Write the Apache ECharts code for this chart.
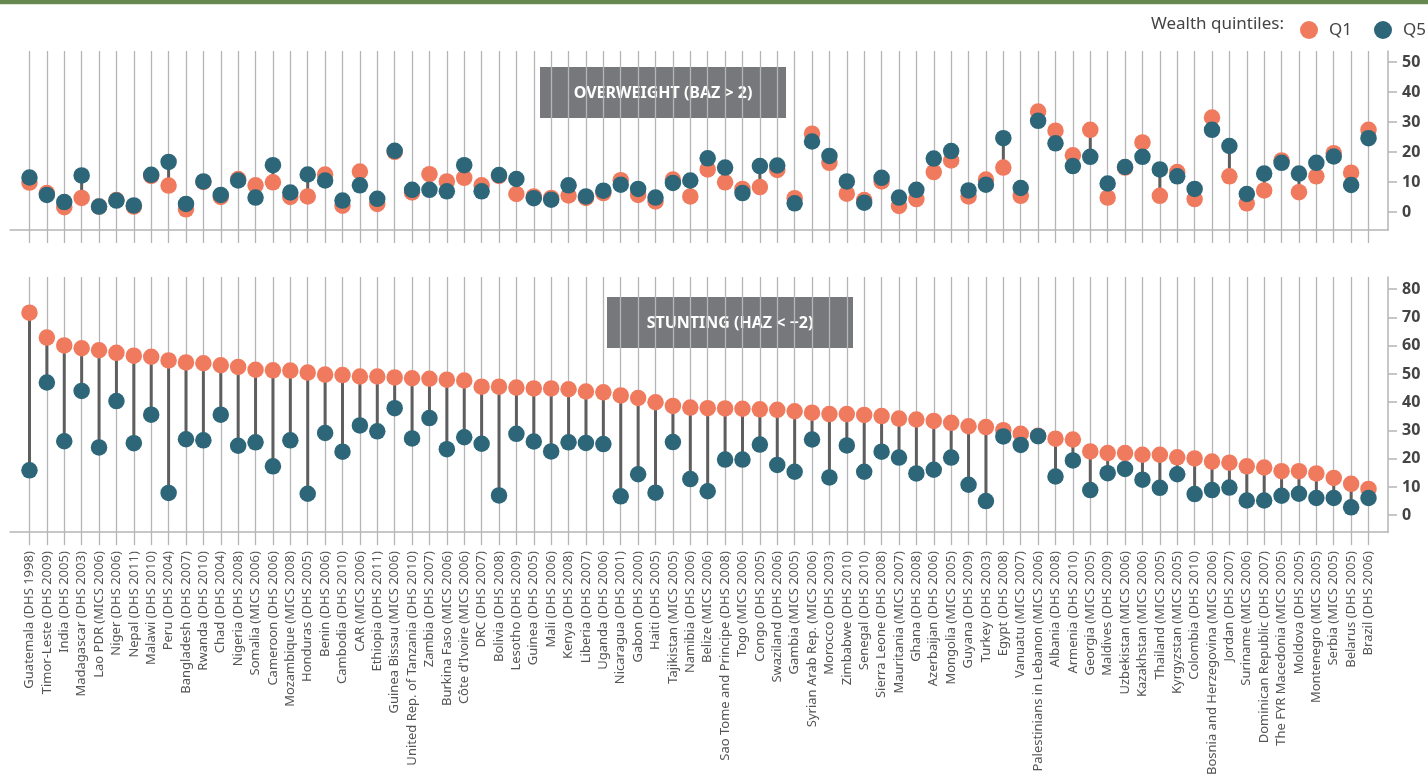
<!DOCTYPE html>
<html><head><meta charset="utf-8">
<script src="https://cdn.jsdelivr.net/npm/echarts@6/dist/echarts.min.js"></script>
<style>html,body{margin:0;padding:0;background:#fff}#c{width:1428px;height:778px}</style>
</head><body><div id="c"></div>
<script>
const countries = [
 "Guatemala (DHS 1998)","Timor-Leste (DHS 2009)","India (DHS 2005)","Madagascar (DHS 2003)","Lao PDR (MICS 2006)",
 "Niger (DHS 2006)","Nepal (DHS 2011)","Malawi (DHS 2010)","Peru (DHS 2004)","Bangladesh (DHS 2007)",
 "Rwanda (DHS 2010)","Chad (DHS 2004)","Nigeria (DHS 2008)","Somalia (MICS 2006)","Cameroon (DHS 2006)",
 "Mozambique (MICS 2008)","Honduras (DHS 2005)","Benin (DHS 2006)","Cambodia (DHS 2010)","CAR (MICS 2006)",
 "Ethiopia (DHS 2011)","Guinea Bissau (MICS 2006)","United Rep. of Tanzania (DHS 2010)","Zambia (DHS 2007)","Burkina Faso (MICS 2006)",
 "Côte d'Ivoire (MICS 2006)","DRC (DHS 2007)","Bolivia (DHS 2008)","Lesotho (DHS 2009)","Guinea (DHS 2005)",
 "Mali (DHS 2006)","Kenya (DHS 2008)","Liberia (DHS 2007)","Uganda (DHS 2006)","Nicaragua (DHS 2001)",
 "Gabon (DHS 2000)","Haiti (DHS 2005)","Tajikistan (MICS 2005)","Namibia (DHS 2006)","Belize (MICS 2006)",
 "Sao Tome and Principe (DHS 2008)","Togo (MICS 2006)","Congo (DHS 2005)","Swaziland (DHS 2006)","Gambia (MICS 2005)",
 "Syrian Arab Rep. (MICS 2006)","Morocco (DHS 2003)","Zimbabwe (DHS 2010)","Senegal (DHS 2010)","Sierra Leone (DHS 2008)",
 "Mauritania (MICS 2007)","Ghana (DHS 2008)","Azerbaijan (DHS 2006)","Mongolia (MICS 2005)","Guyana (DHS 2009)",
 "Turkey (DHS 2003)","Egypt (DHS 2008)","Vanuatu (MICS 2007)","Palestinians in Lebanon (MICS 2006)","Albania (DHS 2008)",
 "Armenia (DHS 2010)","Georgia (MICS 2005)","Maldives (DHS 2009)","Uzbekistan (MICS 2006)","Kazakhstan (MICS 2006)",
 "Thailand (MICS 2005)","Kyrgyzstan (MICS 2005)","Colombia (DHS 2010)","Bosnia and Herzegovina (MICS 2006)","Jordan (DHS 2007)",
 "Suriname (MICS 2006)","Dominican Republic (DHS 2007)","The FYR Macedonia (MICS 2005)","Moldova (DHS 2005)","Montenegro (MICS 2005)",
 "Serbia (MICS 2005)","Belarus (DHS 2005)","Brazil (DHS 2006)"
];

const overweightQ1 = [9.8, 6.3, 1.6, 4.7, 1.8, 4.0, 1.8, 12.0, 8.8, 0.9,
 10.0, 5.0, 11.0, 8.9, 9.9, 5.0, 5.2, 12.5, 2.1, 13.5,
 2.7, 20.0, 6.5, 12.6, 10.2, 11.4, 8.9, 12.0, 6.0, 5.2,
 4.7, 5.5, 4.7, 6.3, 10.6, 5.7, 3.5, 10.8, 5.2, 14.2,
 9.9, 7.7, 8.3, 14.0, 4.6, 26.1, 16.4, 6.1, 4.0, 10.2,
 2.0, 4.3, 13.3, 17.2, 5.2, 10.8, 14.8, 5.4, 33.5, 27.1,
 18.9, 27.4, 4.8, 14.8, 23.2, 5.4, 13.3, 4.3, 31.5, 11.9,
 2.9, 7.2, 17.2, 6.6, 11.9, 19.6, 13.1, 27.4];

const overweightQ5 = [11.5, 5.7, 3.3, 12.2, 1.8, 3.8, 2.2, 12.4, 16.7, 2.7,
 10.2, 5.7, 10.5, 4.8, 15.6, 6.5, 12.5, 10.5, 3.8, 8.9,
 4.4, 20.4, 7.4, 7.4, 6.9, 15.6, 6.9, 12.3, 11.0, 4.6,
 4.1, 8.9, 5.2, 7.1, 9.1, 7.7, 4.8, 9.7, 10.5, 17.9,
 14.8, 6.3, 15.3, 15.5, 2.9, 23.5, 18.7, 10.2, 3.1, 11.4,
 4.8, 7.4, 17.8, 20.3, 7.2, 9.1, 24.6, 8.0, 30.4, 22.9,
 15.3, 18.4, 9.5, 15.0, 18.4, 14.2, 11.9, 7.7, 27.4, 22.0,
 6.0, 12.8, 16.4, 12.8, 16.4, 18.5, 9.0, 24.6];

const stuntingQ1 = [71.7, 62.9, 60.1, 59.1, 58.4, 57.5, 56.5, 56.1, 54.8, 54.1,
 53.8, 53.1, 52.5, 51.5, 51.3, 51.2, 50.5, 49.8, 49.6, 49.1,
 49.1, 48.8, 48.5, 48.3, 48.0, 47.7, 45.5, 45.5, 45.2, 44.9,
 44.9, 44.6, 43.8, 43.5, 42.4, 41.5, 40.0, 38.7, 38.1, 37.9,
 37.8, 37.7, 37.5, 37.3, 36.8, 36.3, 35.8, 35.8, 35.5, 35.1,
 34.2, 33.9, 33.4, 32.7, 31.5, 31.2, 30.1, 28.8, 28.1, 27.1,
 26.8, 22.6, 22.0, 22.0, 21.4, 21.4, 20.5, 20.1, 19.0, 18.6,
 17.3, 16.9, 15.6, 15.6, 14.8, 13.2, 11.1, 9.3];

const stuntingQ5 = [15.9, 47.0, 26.2, 44.0, 24.0, 40.4, 25.5, 35.6, 7.9, 26.9,
 26.5, 35.6, 24.6, 25.8, 17.3, 26.5, 7.6, 29.1, 22.5, 31.8,
 29.7, 37.9, 27.2, 34.4, 23.4, 27.6, 25.3, 7.0, 28.8, 26.1,
 22.6, 25.8, 25.6, 25.2, 6.7, 14.5, 8.0, 25.9, 12.8, 8.5,
 19.7, 19.7, 25.0, 17.8, 15.4, 26.8, 13.4, 24.7, 15.4, 22.5,
 20.4, 14.8, 16.1, 20.4, 10.8, 5.0, 27.9, 24.9, 28.0, 13.7,
 19.4, 8.9, 14.9, 16.4, 12.6, 9.7, 14.5, 7.5, 8.9, 9.8,
 5.2, 5.2, 6.9, 7.6, 6.1, 6.1, 2.8, 6.1];

const overweightTicks = [0, 10, 20, 30, 40, 50];
const stuntingTicks = [0, 10, 20, 30, 40, 50, 60, 70, 80];
const seriesNames = ["Q1", "Q5"];
const legendTitle = "Wealth quintiles:";
const panelTitles = ["OVERWEIGHT (BAZ > 2)", "STUNTING (HAZ < \u22122)"];

const C_Q1 = '#f07a5e', C_Q5 = '#2c6678', C_GRID = '#b5b5b5', C_CONN = '#5e5e5e';
const idx = countries.map((c, i) => i);
const X_MIN = -1.12, X_MAX = 78.12;

function xAxisCfg(g, showLabels) {
  return {
    type: 'value', gridIndex: g, min: X_MIN, max: X_MAX,
    axisLine: { show: true, onZero: false, lineStyle: { color: C_GRID, width: 1.5 } },
    axisTick: { show: true, customValues: idx, length: 13, lineStyle: { color: C_GRID, width: 1.3 } },
    splitLine: { show: true, lineStyle: { color: C_GRID, width: 1.3 } },
    axisLabel: {
      show: showLabels, customValues: idx, rotate: 90, margin: 19,
      formatter: v => countries[Math.round(v)] || '',
      fontFamily: 'Noto Sans', fontSize: 13, color: '#555'
    }
  };
}
function yAxisCfg(g, max, ticks) {
  return {
    type: 'value', gridIndex: g, position: 'right', min: -6, max: max,
    axisLine: { show: true, onZero: false, lineStyle: { color: C_GRID, width: 1.5 } },
    axisTick: { show: true, customValues: ticks, length: 9, lineStyle: { color: C_GRID, width: 1.5 } },
    axisLabel: { customValues: ticks, margin: 14, fontFamily: 'Open Sans', fontWeight: 'bold', fontSize: 16, color: '#444' },
    splitLine: { show: false }
  };
}
function connector(g, a, b) {
  return {
    type: 'custom', xAxisIndex: g, yAxisIndex: g, z: 2, silent: true,
    data: idx.map(i => [i, a[i], b[i]]),
    encode: { x: 0, y: [1, 2] },
    renderItem: (params, api) => {
      const p1 = api.coord([api.value(0), api.value(1)]);
      const p2 = api.coord([api.value(0), api.value(2)]);
      return { type: 'line', shape: { x1: p1[0], y1: p1[1], x2: p2[0], y2: p2[1] },
               style: { stroke: C_CONN, lineWidth: 3 } };
    }
  };
}
function dots(g, name, vals, color, z) {
  return {
    type: 'scatter', name: name, xAxisIndex: g, yAxisIndex: g, z: z,
    symbol: 'circle', symbolSize: 16.5,
    itemStyle: { color: color, opacity: 1 },
    data: idx.map(i => [i, vals[i]])
  };
}
function box(x, y, text) {
  return {
    type: 'group', left: x, top: y,
    children: [
      { type: 'rect', shape: { x: 0, y: 0, width: 246, height: 51 }, style: { fill: '#77787b' } },
      { type: 'text', style: { x: 123, y: 26, text: text, fill: '#fff',
          font: 'bold 16px "Noto Sans"', textAlign: 'center', textVerticalAlign: 'middle',
          align: 'center', verticalAlign: 'middle' } }
    ]
  };
}

const chart = echarts.init(document.getElementById('c'), null, { renderer: 'canvas' });
chart.setOption({
  animation: false,
  backgroundColor: '#fff',
  grid: [
    { left: 10, right: 40, top: 51, height: 179 },
    { left: 10, right: 40, top: 277, height: 271 }
  ],
  xAxis: [xAxisCfg(0, false), xAxisCfg(1, true)],
  yAxis: [yAxisCfg(0, -6 + 179 / 3, overweightTicks), yAxisCfg(1, -6 + 271 / 3, stuntingTicks)],
  legend: {
    data: seriesNames, right: -3, top: 16, itemWidth: 18, itemHeight: 18, itemGap: 22,
    icon: 'circle', selectedMode: false,
    textStyle: { fontFamily: 'Noto Sans', fontSize: 17, color: '#444', padding: [0, 0, 0, 6] }
  },
  graphic: [
    { type: 'rect', left: 0, top: 0, shape: { width: 1428, height: 4 }, style: { fill: '#66874f' } },
    { type: 'rect', left: 0, top: 4, shape: { width: 1428, height: 1 }, style: { fill: '#dfe7d8' } },
    { type: 'text', right: 1428 - 1284, top: 16, style: { text: legendTitle, fill: '#444',
        font: '17px "Noto Sans"' } },
    box(540, 67, panelTitles[0]),
    box(607, 297, panelTitles[1])
  ],
  series: [
    connector(0, overweightQ1, overweightQ5),
    dots(0, seriesNames[0], overweightQ1, C_Q1, 3),
    dots(0, seriesNames[1], overweightQ5, C_Q5, 4),
    connector(1, stuntingQ1, stuntingQ5),
    dots(1, seriesNames[0], stuntingQ1, C_Q1, 3),
    dots(1, seriesNames[1], stuntingQ5, C_Q5, 4)
  ]
});
</script>
</body></html>
